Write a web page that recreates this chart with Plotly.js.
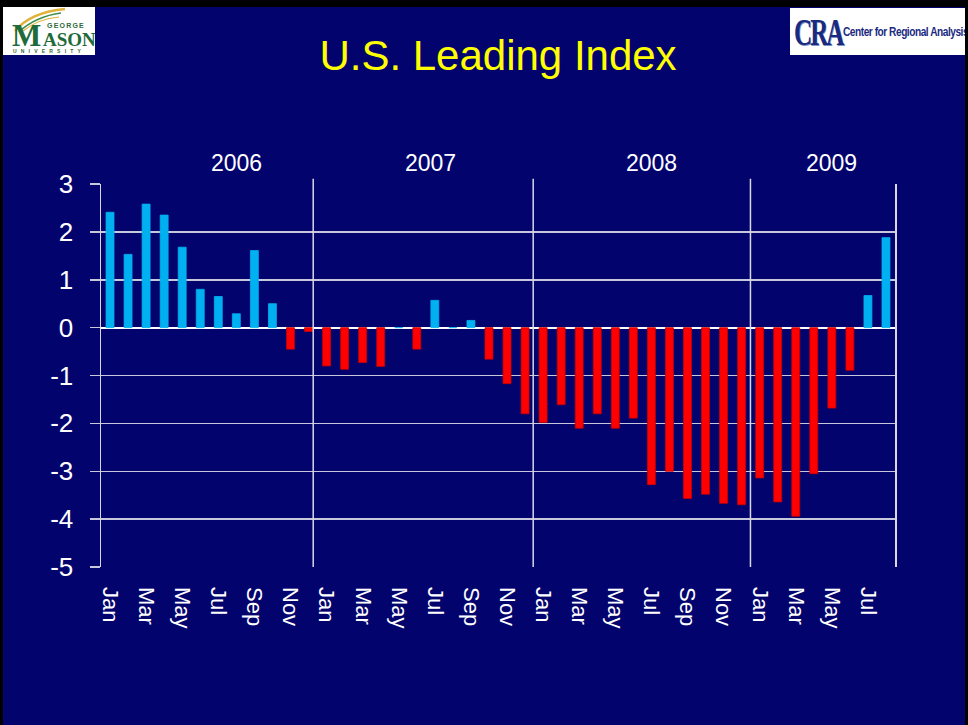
<!DOCTYPE html>
<html>
<head>
<meta charset="utf-8">
<script src="https://cdn.plot.ly/plotly-3.0.1.min.js"></script>
<style>
  html, body { margin: 0; padding: 0; background: #000; width: 968px; height: 725px; overflow: hidden; }
  #slide { position: absolute; left: 3px; top: 7px; width: 962px; height: 718px; background: #03036E; }
  #chart { position: absolute; left: 0; top: 0; width: 962px; height: 718px; }
  .logo { position: absolute; background: #fff; overflow: hidden; }
  #gmu { left: 0px; top: 0px; width: 92px; height: 48px; }
  #cra { left: 787px; top: 1px; width: 175px; height: 47px; }
  .t { position: absolute; white-space: nowrap; }
</style>
</head>
<body>
<div id="slide">
  <div id="chart"></div>
  <div id="gmu" class="logo">
    <svg width="92" height="48" style="position:absolute;left:0;top:0">
      <path d="M12 24 C 22 12, 40 4, 62 2" stroke="#E2B33C" stroke-width="2.5" fill="none"/>
      <path d="M16 25 C 26 15, 42 8, 58 6" stroke="#3E8E4E" stroke-width="1.5" fill="none"/>
      <path d="M20 24 C 30 16, 44 11, 56 10" stroke="#E2B33C" stroke-width="1.2" fill="none"/>
    </svg>
    <div class="t" style="left:44px;top:15px;font:bold 7px 'Liberation Sans',Arial;letter-spacing:1.2px;color:#2E6B3A;line-height:8px">GEORGE</div>
    <div class="t" style="left:9px;top:16px;font:bold 31px 'Liberation Serif','DejaVu Serif',serif;color:#1F6B3A;line-height:25px">M</div>
    <div class="t" style="left:40px;top:25px;font:bold 19px 'Liberation Serif','DejaVu Serif',serif;color:#1F6B3A;line-height:15px">ASON</div>
    <div class="t" style="left:10px;top:42px;font:bold 5px 'Liberation Sans',Arial;letter-spacing:4.2px;color:#2E6B3A;line-height:5px">UNIVERSITY</div>
  </div>
  <div id="cra" class="logo">
    <div class="t" style="left:4px;top:5px;font:bold 38px 'Liberation Serif','DejaVu Serif',serif;color:#1A2A80;letter-spacing:-3px;line-height:38px;text-shadow:1px 1px 0 #8090C0;transform:scaleX(0.66);transform-origin:left">CRA</div>
    <div class="t" style="left:53px;top:17px;font:bold 13px 'Liberation Sans Narrow','Liberation Sans',Arial;color:#1A2A80;letter-spacing:-0.6px;line-height:14px;transform:scaleX(0.78);transform-origin:left">Center for Regional Analysis</div>
  </div>
</div>
<script>
// Monthly categories, Jan 2006 .. Aug 2009
const categories = [
  'Jan 2006','Feb 2006','Mar 2006','Apr 2006','May 2006','Jun 2006','Jul 2006','Aug 2006','Sep 2006','Oct 2006','Nov 2006','Dec 2006',
  'Jan 2007','Feb 2007','Mar 2007','Apr 2007','May 2007','Jun 2007','Jul 2007','Aug 2007','Sep 2007','Oct 2007','Nov 2007','Dec 2007',
  'Jan 2008','Feb 2008','Mar 2008','Apr 2008','May 2008','Jun 2008','Jul 2008','Aug 2008','Sep 2008','Oct 2008','Nov 2008','Dec 2008',
  'Jan 2009','Feb 2009','Mar 2009','Apr 2009','May 2009','Jun 2009','Jul 2009','Aug 2009'
];
const values = [
  2.41, 1.53, 2.58, 2.35, 1.68, 0.80, 0.65, 0.29, 1.61, 0.50, -0.45, -0.08,
  -0.80, -0.87, -0.73, -0.81, 0.00, -0.45, 0.57, 0.00, 0.15, -0.66, -1.17, -1.80,
  -1.98, -1.61, -2.10, -1.80, -2.10, -1.89, -3.28, -3.00, -3.57, -3.48, -3.67, -3.70,
  -3.14, -3.64, -3.94, -3.05, -1.68, -0.89, 0.67, 1.88
];
const tickCategories = ['Jan 2006','Mar 2006','May 2006','Jul 2006','Sep 2006','Nov 2006',
  'Jan 2007','Mar 2007','May 2007','Jul 2007','Sep 2007','Nov 2007',
  'Jan 2008','Mar 2008','May 2008','Jul 2008','Sep 2008','Nov 2008',
  'Jan 2009','Mar 2009','May 2009','Jul 2009'];
const tickLabels = ['Jan','Mar','May','Jul','Sep','Nov',
  'Jan','Mar','May','Jul','Sep','Nov',
  'Jan','Mar','May','Jul','Sep','Nov',
  'Jan','Mar','May','Jul'];
const yTickVals = [-5, -4, -3, -2, -1, 0, 1, 2, 3];
const yTickText = ['-5', '-4', '-3', '-2', '-1', '0', '1', '2', '3'];
const yearLabels = ['2006','2007','2008','2009'];
const yearLabelPos = [7.03, 17.78, 30.03, 40.0];   // label placement (category index)
const yearDividers = [11.26, 23.45, 35.49];        // divider placement (category index)

const BLUE = '#00B0F0', RED = '#FF0000';
const GRID = '#C8C8DC';
const FONT = "'Liberation Sans', Arial, sans-serif";

const trace = {
  type: 'bar',
  x: categories,
  y: values,
  marker: {
    color: values.map(v => v >= 0 ? BLUE : RED),
    line: { color: values.map(v => v >= 0 ? BLUE : '#C80000'), width: 0.8 }
  },
  hoverinfo: 'skip',
  showlegend: false
};

const layout = {
  width: 962, height: 718,
  paper_bgcolor: '#03036E',
  plot_bgcolor: '#03036E',
  margin: { l: 98, r: 70, t: 177, b: 158 },
  bargap: 0.56,
  showlegend: false,
  hovermode: false,
  title: {
    text: 'U.S. Leading Index',
    font: { family: FONT, size: 42, color: '#FFFF00' },
    x: 0.5, xanchor: 'center', xref: 'paper',
    y: 1 - 48 / 718, yanchor: 'middle', yref: 'container'
  },
  xaxis: {
    type: 'category',
    categoryorder: 'array', categoryarray: categories,
    range: [-0.5, categories.length - 0.5],
    tickmode: 'array', tickvals: tickCategories, ticktext: tickLabels,
    tickangle: 90,
    ticks: '',
    ticklabelstandoff: 19,
    tickfont: { family: FONT, size: 22, color: '#FFFFFF' },
    showgrid: false, zeroline: false, showline: false,
    fixedrange: true
  },
  xaxis2: {
    type: 'linear',
    overlaying: 'x',
    anchor: 'free', position: 5 / 8,
    side: 'bottom',
    range: [-0.5, categories.length - 0.5],
    tickmode: 'linear', tick0: 0.5, dtick: 1,
    ticks: 'outside', ticklen: 8, tickwidth: 1.5, tickcolor: '#A8A8C8',
    showticklabels: false, showgrid: false, zeroline: false, showline: false,
    fixedrange: true
  },
  yaxis: {
    range: [-5, 3],
    tickmode: 'array', tickvals: yTickVals, ticktext: yTickText,
    ticks: 'outside', ticklen: 10, tickwidth: 1.5, tickcolor: GRID,
    ticklabelstandoff: 11,
    tickfont: { family: FONT, size: 26, color: '#FFFFFF' },
    showgrid: true, gridcolor: GRID, gridwidth: 1.5,
    zeroline: true, zerolinecolor: '#FFFFFF', zerolinewidth: 2,
    showline: true, mirror: true, linecolor: '#D8D8E8', linewidth: 1.5,
    fixedrange: true
  },
  shapes: yearDividers.map(x => ({
    type: 'line', xref: 'x', yref: 'paper',
    x0: x, x1: x, y0: 0, y1: 1.014,
    line: { color: '#D8D8E8', width: 1.5 }
  })),
  annotations: yearLabels.map((t, i) => ({
    text: t, xref: 'x', yref: 'paper',
    x: yearLabelPos[i], y: 1, yshift: 21,
    xanchor: 'center', yanchor: 'middle', showarrow: false,
    font: { family: FONT, size: 23, color: '#FFFFFF' }
  }))
};

Plotly.newPlot('chart', [trace], layout, { displayModeBar: false, staticPlot: true });
</script>
</body>
</html>
